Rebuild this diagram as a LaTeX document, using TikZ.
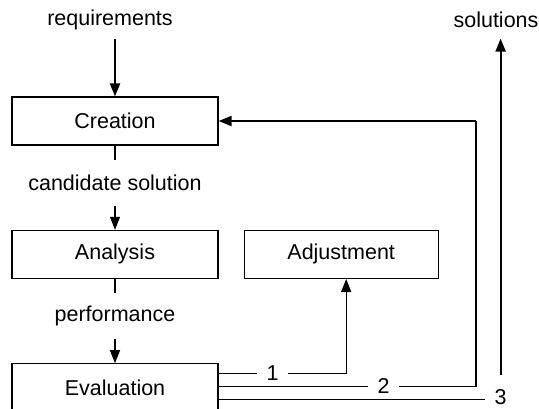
\documentclass[tikz,border=0pt]{standalone}
\usepackage{fontspec}
\setmainfont{Liberation Sans}
\usetikzlibrary{arrows.meta,positioning,calc}

\begin{document}
\begin{tikzpicture}[x=1pt, y=-1pt, >={Triangle[length=13pt,width=10pt]},
        font=\fontsize{21.5}{25}\selectfont, line width=1.2pt,
        box/.style={draw, rectangle, minimum width=206pt, minimum height=48pt},
        lbl/.style={inner sep=0pt, minimum height=45pt},
        endlbl/.style={inner sep=0pt, minimum height=36pt},
        num/.style={inner xsep=9pt, inner ysep=0pt},
        heavy/.style={line width=2pt}]
        \useasboundingbox (0,0) rectangle (539,408);
        \clip (0,0) rectangle (539,408);

        % Nodes
        \node (creation) [box] at (115,121) {Creation};
        \node (cand) [lbl, below=14pt of creation] {candidate solution};
        \node (analysis) [box, below=24pt of cand] {Analysis};
        \node (perf) [lbl, below=14pt of analysis] {performance};
        \node (eval) [box, below=24pt of perf] {Evaluation};
        \node (adjust) [box, minimum width=194pt, right=25pt of analysis] {Adjustment};
        \node (req) [endlbl] at (110,20) {requirements};
        \node (sol) [endlbl] at (496,20) {solutions};

        % Outputs of the evaluation
        \coordinate (e1) at ($(eval.north east)+(0,10)$);
        \coordinate (e2) at ($(eval.north east)+(0,23)$);
        \coordinate (e3) at ($(eval.north east)+(0,36)$);
        \node (one) [num] at ($(e1)+(54,0)$) {1};
        \node (two) [num] at ($(e2)+(165,0)$) {2};
        \node (three) [num] at ($(e3)+(282,-2)$) {3};
        \coordinate (fb) at (476,121);

        % Main flow
        \draw[->, heavy] (req.south -| creation.north) -- (creation.north);
        \draw (creation) -- (cand);
        \draw[->] (cand) -- (analysis);
        \draw (analysis) -- (perf);
        \draw[->] (perf) -- (eval);

        % 1: adjust
        \draw (e1) -- (one);
        \draw[->] (one) -| ([xshift=5pt]adjust.south);

        % 2: back to creation
        \draw (e2) -- (two);
        \draw (two) -| (fb);
        \draw[->, heavy] (fb) -- (creation);

        % 3: out as solutions
        \draw (e3) -- (e3 -| three.west);
        \draw[->, heavy] ([yshift=14pt]three.north) -- (three.north |- sol.south);
\end{tikzpicture}
\end{document}
